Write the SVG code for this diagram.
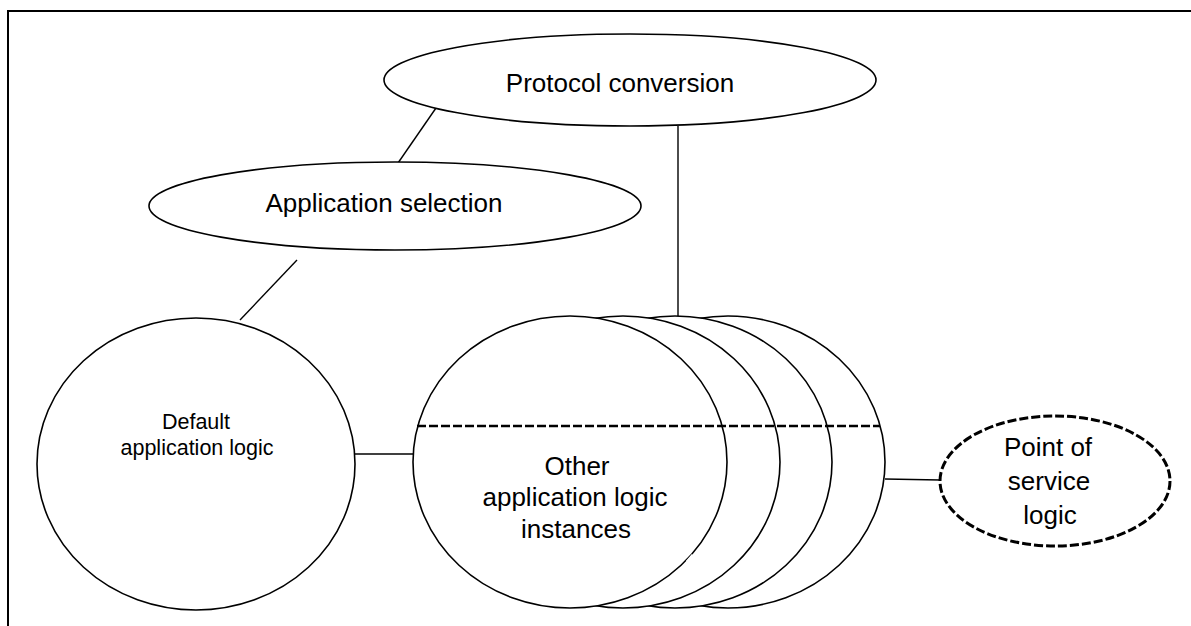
<svg xmlns="http://www.w3.org/2000/svg" width="1191" height="626" viewBox="0 0 1191 626">
<style>
.shape{fill:#fff;stroke:#000;stroke-width:1.6}
.ln{stroke:#000;stroke-width:1.4;fill:none}
.dash{stroke:#000;stroke-width:2.6;stroke-dasharray:9 3;fill:none}
.t{font-family:"Liberation Sans",Arial,sans-serif;fill:#000;text-anchor:middle}
.big{font-size:26px}
.small{font-size:21.5px}
</style>
<rect width="1191" height="626" fill="#fff"/>
<path d="M8,626 V11 H1191" fill="none" stroke="#000" stroke-width="2"/>
<g id="connectors">
<line class="ln" x1="436" y1="108" x2="398" y2="163"/>
<line class="ln" x1="678" y1="126" x2="678" y2="317"/>
<line class="ln" x1="297" y1="260" x2="240" y2="320"/>
<line class="ln" x1="355" y1="454" x2="413" y2="454"/>
<line class="ln" x1="885" y1="479" x2="940" y2="480"/>
</g>
<g id="protocol-conversion">
<ellipse class="shape" cx="630" cy="80" rx="246" ry="46"/>
<text class="t big" x="620" y="92">Protocol conversion</text>
</g>
<g id="application-selection">
<ellipse class="shape" cx="395" cy="206" rx="246" ry="44"/>
<text class="t big" x="384" y="212">Application selection</text>
</g>
<g id="default-application-logic">
<ellipse class="shape" cx="196" cy="464" rx="159" ry="146"/>
<text class="t small" x="196" y="429">Default</text>
<text class="t small" x="197" y="455">application logic</text>
</g>
<g id="other-application-logic-instances">
<ellipse class="shape" cx="728" cy="462" rx="157" ry="146"/>
<ellipse class="shape" cx="675" cy="462" rx="157" ry="146"/>
<ellipse class="shape" cx="623" cy="462" rx="157" ry="146"/>
<ellipse class="shape" cx="570" cy="462" rx="157" ry="146"/>
<line class="dash" x1="417" y1="426" x2="880" y2="426"/>
<line x1="687" y1="562" x2="693" y2="555" stroke="#fff" stroke-width="3"/>
<text class="t big" x="577" y="475">Other</text>
<text class="t big" x="575" y="506">application logic</text>
<text class="t big" x="576" y="538">instances</text>
</g>
<g id="point-of-service-logic">
<ellipse cx="1055" cy="481" rx="115" ry="65" fill="#fff" stroke="#000" stroke-width="3" stroke-dasharray="9 3"/>
<text class="t big" x="1048" y="456">Point of</text>
<text class="t big" x="1049" y="490">service</text>
<text class="t big" x="1050" y="524">logic</text>
</g>
</svg>
